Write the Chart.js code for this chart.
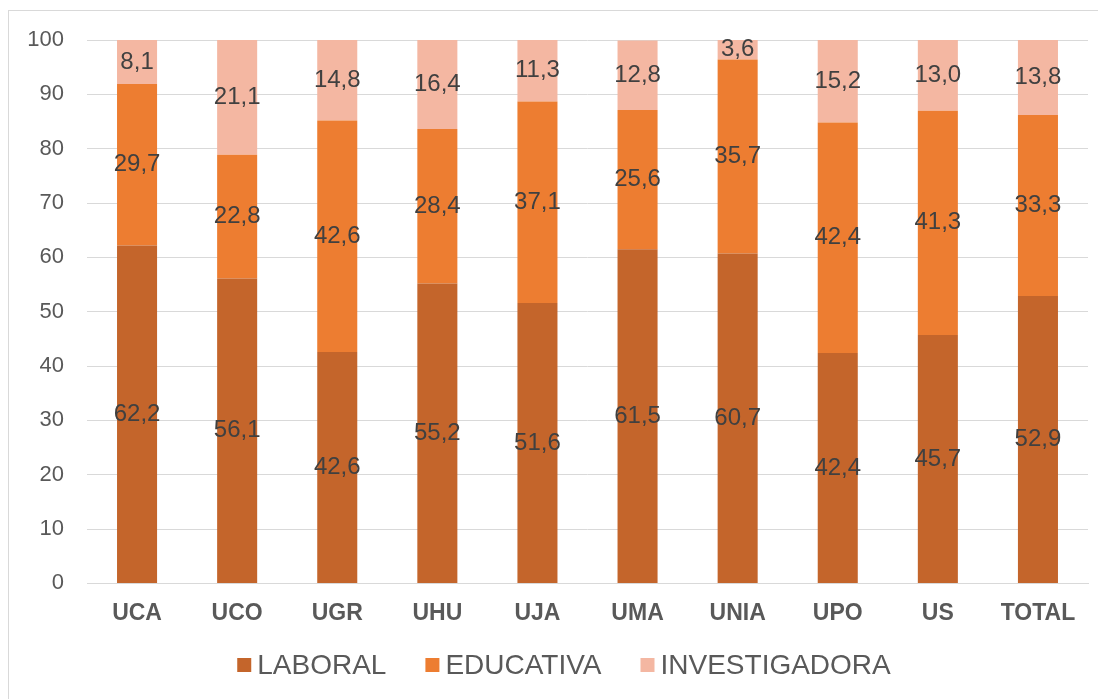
<!DOCTYPE html>
<html>
<head>
<meta charset="utf-8">
<script src="https://cdn.jsdelivr.net/npm/chart.js@4"></script>
<style>
  html, body { margin: 0; padding: 0; background: #fff; overflow: hidden; }
  #frame {
    position: absolute; left: 8px; top: 10px;
    width: 1110px; height: 720px;
    border: 1px solid #d9d9d9;
  }
  #wrap { position: relative; width: 1110px; height: 688px; }
</style>
</head>
<body>
<div id="frame"><div id="wrap"><canvas id="chart"></canvas></div></div>
<script>
const universities = ['UCA','UCO','UGR','UHU','UJA','UMA','UNIA','UPO','US','TOTAL'];
const laboral       = [62.2, 56.1, 42.6, 55.2, 51.6, 61.5, 60.7, 42.4, 45.7, 52.9];
const educativa     = [29.7, 22.8, 42.6, 28.4, 37.1, 25.6, 35.7, 42.4, 41.3, 33.3];
const investigadora = [8.1, 21.1, 14.8, 16.4, 11.3, 12.8, 3.6, 15.2, 13.0, 13.8];
const yTicks = [0, 10, 20, 30, 40, 50, 60, 70, 80, 90, 100];

const FONT = "'Liberation Sans', Arial, sans-serif";
const GRID = '#d9d9d9';

/* ── DATA LABELS ────────────────────────────────────────── */
const segmentLabels = {
  id: 'segmentLabels',
  afterDatasetsDraw(chart) {
    const ctx = chart.ctx;
    ctx.save();
    ctx.font = '24px ' + FONT;
    ctx.fillStyle = '#404040';
    ctx.textAlign = 'center';
    ctx.textBaseline = 'middle';
    chart.data.datasets.forEach((ds, i) => {
      chart.getDatasetMeta(i).data.forEach((bar, j) => {
        const p = bar.getCenterPoint();
        ctx.fillText(ds.data[j].toFixed(1).replace('.', ','), p.x, p.y);
      });
    });
    ctx.restore();
  }
};

/* ── LEGEND (office style: small gap box/text) ──────────── */
const officeLegend = {
  id: 'officeLegend',
  afterDraw(chart) {
    const ctx = chart.ctx;
    const box = 14, gap = 6, spacing = 39, cy = chart.height - 34;
    ctx.save();
    ctx.font = '28px ' + FONT;
    ctx.textBaseline = 'middle';
    const items = chart.data.datasets.map(ds => ({ text: ds.label, color: ds.backgroundColor, w: ctx.measureText(ds.label).width }));
    const total = items.reduce((s, it) => s + box + gap + it.w, 0) + spacing * (items.length - 1);
    let x = chart.width / 2 - total / 2;
    items.forEach(it => {
      ctx.fillStyle = it.color;
      ctx.fillRect(x, cy - box / 2, box, box);
      ctx.fillStyle = '#595959';
      ctx.fillText(it.text, x + box + gap, cy + 1);
      x += box + gap + it.w + spacing;
    });
    ctx.restore();
  }
};

new Chart(document.getElementById('chart'), {
  type: 'bar',
  data: {
    labels: universities,
    datasets: [
      { label: 'LABORAL',       data: laboral,       backgroundColor: '#C4652B' },
      { label: 'EDUCATIVA',     data: educativa,     backgroundColor: '#ED7D31' },
      { label: 'INVESTIGADORA', data: investigadora, backgroundColor: '#F4B7A2' }
    ]
  },
  options: {
    responsive: true,
    maintainAspectRatio: false,
    animation: false,
    layout: { padding: { left: 0, right: 31, top: 29, bottom: 56 } },
    datasets: { bar: { categoryPercentage: 1, barPercentage: 0.4, borderWidth: 0 } },
    scales: {
      x: {
        stacked: true,
        grid: { display: false, drawTicks: false },
        border: { display: true, color: GRID, width: 1 },
        ticks: { color: '#595959', padding: 16, font: { family: FONT, size: 23, weight: 'bold' } }
      },
      y: {
        stacked: true,
        min: 0, max: 100,
        afterBuildTicks: s => { s.ticks = yTicks.map(v => ({ value: v })); },
        afterFit: s => { s.width = 78; s.paddingTop = 0; s.paddingBottom = 0; },
        grid: { color: GRID, lineWidth: 1, drawTicks: false },
        border: { display: false },
        ticks: { color: '#595959', padding: 23, font: { family: FONT, size: 22 } }
      }
    },
    plugins: {
      legend: { display: false },
      tooltip: { enabled: false }
    }
  },
  plugins: [segmentLabels, officeLegend]
});
</script>
</body>
</html>
